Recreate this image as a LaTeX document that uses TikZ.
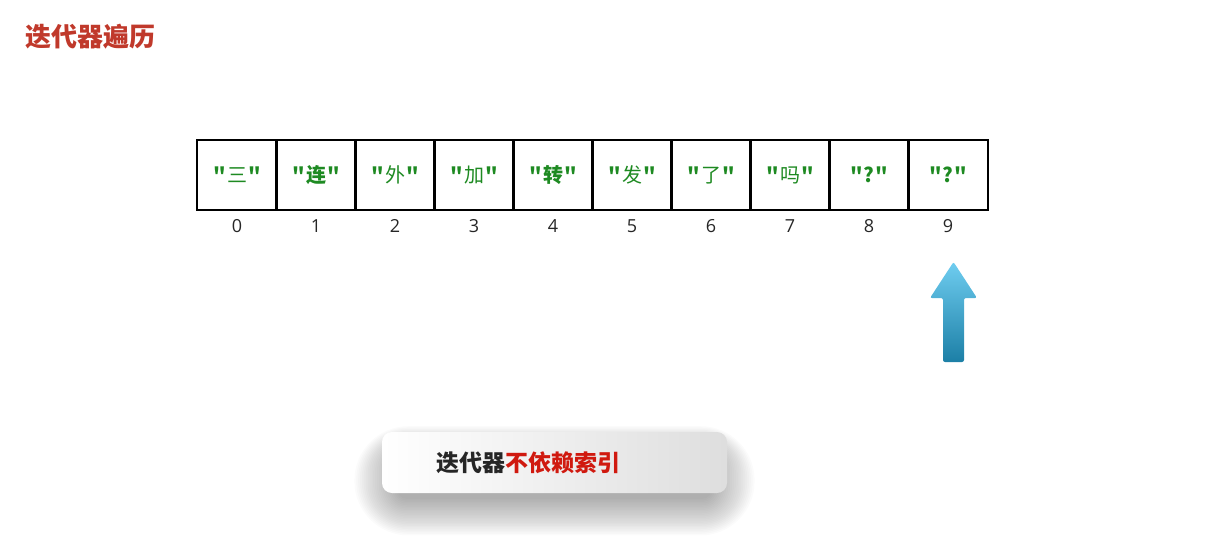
\documentclass[tikz,border=0pt]{standalone}
\usepackage{fontspec}
\setmainfont{Open Sans}
\newfontfamily\cjk{Noto Sans CJK SC}
\usepackage{tikz}
\usetikzlibrary{positioning}
\definecolor{titlered}{HTML}{C0392B}
\definecolor{hintred}{HTML}{D0190F}
\definecolor{cellgreen}{HTML}{1E8A22}
\definecolor{arrowtop}{HTML}{6FCDF0}
\definecolor{arrowbot}{HTML}{1C7FA6}
\newcommand{\qt}[1]{{\bfseries"}\hspace{1pt}#1\hspace{1pt}{\bfseries"}}

\begin{document}
\begin{tikzpicture}[x=1pt,y=-1pt,
  cell/.style={draw, line width=2pt, minimum width=80pt, minimum height=70pt, inner sep=0pt, outer sep=0pt,
    text=cellgreen, font=\cjk\fontsize{20}{20}\selectfont},
  idx/.style={font=\fontsize{18}{18}\selectfont, text=black!85}]
\useasboundingbox (0,0) rectangle (1209,543);

% title
\node[anchor=west, inner sep=0pt, text=titlered, font=\cjk\bfseries\fontsize{26}{26}\selectfont] (title) at (25,37) {迭代器遍历};

% array cells
\node[cell] (c0) at (237,175) {\qt{三}};
\foreach \i/\j/\t in {1/0/{\bfseries 连}, 2/1/外, 3/2/加, 4/3/{\bfseries 转}, 5/4/发, 6/5/了, 7/6/吗, 8/7/{\bfseries ?}, 9/8/{\bfseries ?}}
  \node[cell, right=-1pt of c\j] (c\i) {\qt{\t}};

% index labels
\foreach \i in {0,...,9}
  \node[idx] (n\i) at ([yshift=-16pt]c\i.south) {\i};

% iterator arrow
\shade[top color=arrowtop, bottom color=arrowbot, rounded corners=2pt]
  (953.5,262) -- (977,298) -- (964,298) -- (964,362) -- (943,362) -- (943,298) -- (930,298) -- cycle;

% hint box with shadow
\foreach \k in {1,...,24}
  \fill[black, opacity=0.016, rounded corners=6pt+2pt*\k]
    (400-1.9*\k,455-1.2*\k) rectangle (709+1.9*\k,497+1.6*\k);
\shade[left color=white, right color=black!13, rounded corners=10pt] (382,432) rectangle (727,493);
\node[anchor=west, inner sep=0pt, font=\cjk\bfseries\fontsize{23}{23}\selectfont] (hint) at (436,463)
  {\textcolor{black!85}{迭代器}\textcolor{hintred}{不依赖索引}};
\end{tikzpicture}
\end{document}
